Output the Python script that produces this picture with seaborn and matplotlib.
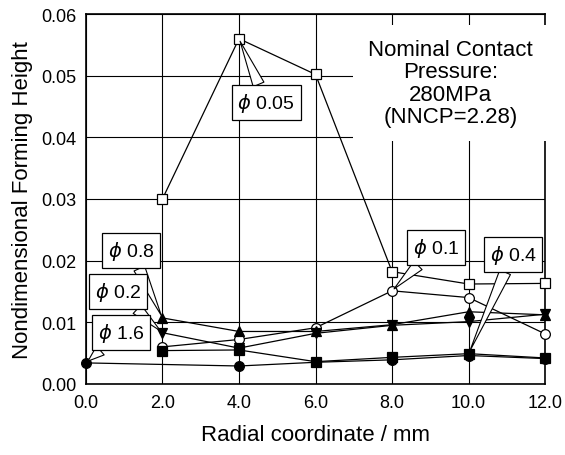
import matplotlib
matplotlib.use('agg')
import numpy as np
import pandas as pd
import matplotlib.pyplot as plt
import seaborn as sns

# radial positions (mm) and measured heights per die diameter
x_main = [2, 4, 6, 8, 10, 12]
x_16 = [0, 4, 6, 8, 10, 12]

h_005 = [0.0300, 0.0560, 0.0502, 0.0182, 0.0162, 0.0163]
h_01 = [0.0060, 0.0072, 0.0091, 0.0151, 0.0140, 0.0081]
h_02 = [0.0083, 0.0058, 0.0082, 0.0095, 0.0101, 0.0113]
h_04 = [0.0054, 0.0055, 0.0036, 0.0043, 0.0049, 0.0042]
h_08 = [0.0107, 0.0085, 0.0085, 0.0096, 0.0117, 0.0112]
h_16 = [0.0034, 0.0029, 0.0035, 0.0039, 0.0046, 0.0041]

labels = ["$\\phi$ 0.05", "$\\phi$ 0.1", "$\\phi$ 0.2", "$\\phi$ 0.4", "$\\phi$ 0.8", "$\\phi$ 1.6"]

sns.set_style('white')
plt.rcParams['font.family'] = ['Liberation Sans', 'DejaVu Sans']
plt.rcParams['mathtext.fontset'] = 'dejavusans'
plt.rcParams['text.color'] = 'black'
plt.rcParams['axes.labelcolor'] = 'black'

fig = plt.figure(figsize=(5.65, 4.56), dpi=100)
ax = fig.add_axes([0.152, 0.156, 0.813, 0.811])

# series: (x, y, marker, facecolor)
series = [
    (x_main, h_005, 's', 'white'),
    (x_main, h_01, 'o', 'white'),
    (x_main, h_02, 'v', 'black'),
    (x_main, h_04, 's', 'black'),
    (x_main, h_08, '^', 'black'),
    (x_16, h_16, 'o', 'black'),
]
for xs, ys, mk, fc in series:
    df = pd.DataFrame({'x': xs, 'y': ys})
    sns.lineplot(data=df, x='x', y='y', ax=ax, color='black', linewidth=0.9,
                 marker=mk, markersize=7, markerfacecolor=fc,
                 markeredgecolor='black', markeredgewidth=0.9,
                 clip_on=False, zorder=5)

ax.set_xlim(0, 12)
ax.set_ylim(0, 0.06)
ax.set_xticks(np.arange(0, 13, 2))
ax.set_yticks(np.arange(0, 0.061, 0.01))
ax.set_xticklabels(["%.1f" % v for v in np.arange(0, 13, 2)])
ax.set_yticklabels(["%.2f" % v for v in np.arange(0, 0.061, 0.01)])
ax.tick_params(length=0, labelsize=13, pad=7, colors='black')
ax.grid(True, color='black', linewidth=0.8)
ax.set_axisbelow(True)
for s in ax.spines.values():
    s.set_color('black')
    s.set_linewidth(1.2)

ax.set_xlabel("Radial coordinate / mm", fontsize=16, labelpad=10)
ax.set_ylabel("Nondimensional Forming Height", fontsize=16, labelpad=6)

# condition note, white backing hides the grid behind it
ax.text(9.52, 0.0488, "Nominal Contact\nPressure:\n280MPa\n(NNCP=2.28)",
        ha='center', va='center', fontsize=16, linespacing=1.08, zorder=3,
        bbox=dict(boxstyle='square,pad=0.65', fc='white', ec='none'))

# callouts: (label, point x, point y, box x, box y)
callouts = [
    (labels[0], x_main[1], h_005[1], 4.71, 0.0457),
    (labels[1], x_main[3], h_01[3], 9.15, 0.0221),
    (labels[3], x_main[4], h_04[4], 11.16, 0.0210),
    (labels[4], x_main[0], h_08[0], 1.18, 0.0216),
    (labels[2], x_main[0], h_02[0], 0.84, 0.0150),
    (labels[5], x_16[0], h_16[0], 0.92, 0.0083),
]
for lab, px, py, bx, by in callouts:
    ax.annotate(lab, xy=(px, py), xytext=(bx, by), ha='center', va='center',
                fontsize=14, zorder=6, annotation_clip=False,
                bbox=dict(boxstyle='square,pad=0.3', fc='white', ec='black', lw=0.9),
                arrowprops=dict(arrowstyle='wedge,tail_width=0.6', fc='white',
                                ec='black', lw=0.8, shrinkA=0, shrinkB=2))

fig.savefig("out.png", dpi=100)
